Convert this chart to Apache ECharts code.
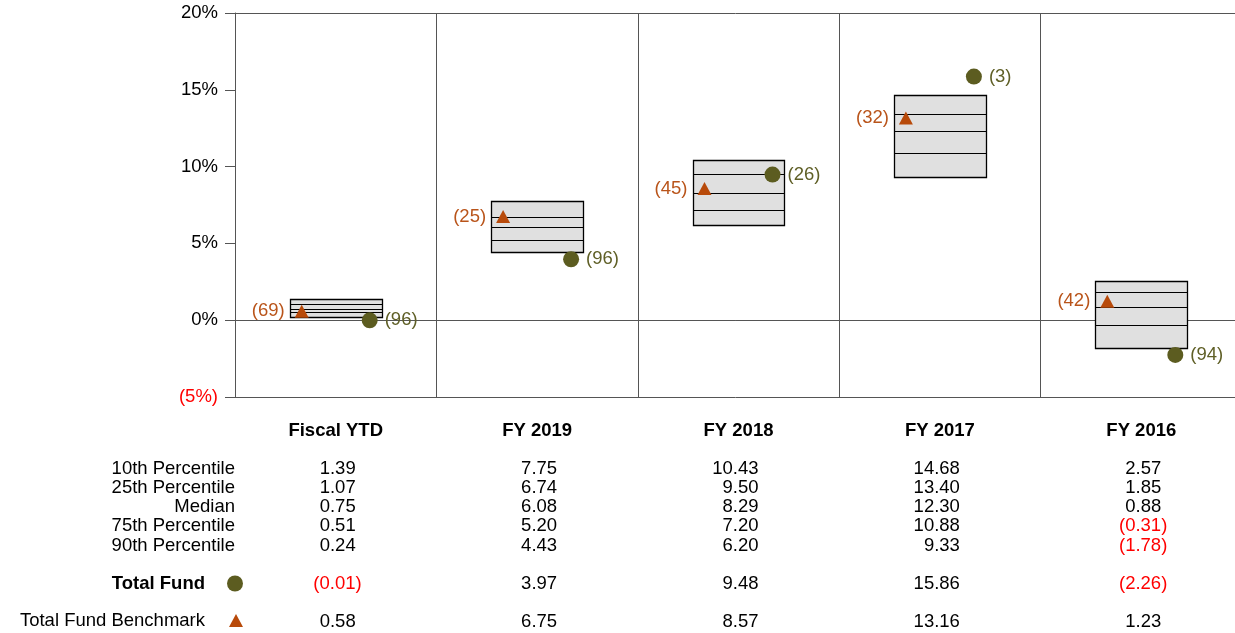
<!DOCTYPE html>
<html>
<head>
<meta charset="utf-8">
<script src="https://cdn.jsdelivr.net/npm/echarts@6/dist/echarts.min.js"></script>
<style>
  html, body { margin: 0; padding: 0; background: #fff; }
  #chart { width: 1235px; height: 633px; }
</style>
</head>
<body>
<div id="chart"></div>
<script>
// periods and percentile ranges (%)
var periods = ['Fiscal YTD', 'FY 2019', 'FY 2018', 'FY 2017', 'FY 2016'];
var p10 = [1.39, 7.75, 10.43, 14.68, 2.57];
var p25 = [1.07, 6.74, 9.50, 13.40, 1.85];
var median = [0.75, 6.08, 8.29, 12.30, 0.88];
var p75 = [0.51, 5.20, 7.20, 10.88, -0.31];
var p90 = [0.24, 4.43, 6.20, 9.33, -1.78];
var totalFund = [-0.01, 3.97, 9.48, 15.86, -2.26];
var totalFundRank = [96, 96, 26, 3, 94];
var benchmark = [0.58, 6.75, 8.57, 13.16, 1.23];
var benchmarkRank = [69, 25, 45, 32, 42];
var rowNames = ['10th Percentile', '25th Percentile', 'Median', '75th Percentile', '90th Percentile'];

var FONT = '"Liberation Sans", Arial, sans-serif';
var FS = 18.5;
var fundColor = '#5c5c20';
var benchColor = '#b84a0a';
var lineColor = '#555';

function fmt(v) {
  if (v < 0) return '{r|(' + Math.abs(v).toFixed(2) + ')}';
  return '{n|' + v.toFixed(2) + '}';
}

// one extra x axis per table row, aligned with the category columns
var tableRows = [p10, p25, median, p75, p90, totalFund, benchmark];
var rowOffsets = [62.5, 81.5, 100.5, 119.5, 139.5, 177, 215];

var xAxes = [{
  type: 'category',
  data: periods,
  position: 'bottom',
  axisLine: { show: true, lineStyle: { color: lineColor, width: 1 } },
  axisTick: { show: false },
  splitLine: { show: true, lineStyle: { color: lineColor, width: 1 } },
  axisLabel: {
    interval: 0, margin: 24.5, lineHeight: 19,
    fontFamily: FONT, fontSize: FS, fontWeight: 'bold', color: '#000'
  }
}];
tableRows.forEach(function (row, k) {
  xAxes.push({
    type: 'category',
    data: row.map(fmt),
    position: 'bottom',
    offset: rowOffsets[k],
    axisLine: { show: false },
    axisTick: { show: false },
    splitLine: { show: false },
    axisLabel: {
      interval: 0, margin: 0, width: 52, align: 'center',
      fontFamily: FONT, fontSize: FS, color: '#000', lineHeight: 19,
      rich: {
        n: { align: 'right', fontFamily: FONT, fontSize: FS, color: '#000', padding: [0, 6, 0, 0] },
        r: { align: 'right', fontFamily: FONT, fontSize: FS, color: '#ff0000' }
      }
    }
  });
});

var rowLabelTexts = rowNames.map(function (name, k) {
  return {
    type: 'text',
    right: 1235 - 235,
    top: 397 + rowOffsets[k],
    style: {
      text: name, font: FS + 'px ' + FONT, fill: '#000',
      textAlign: 'right', lineHeight: 19
    }
  };
});

var boxData = periods.map(function (p, i) {
  return [i, p10[i], p25[i], median[i], p75[i], p90[i]];
});

var dom = document.getElementById('chart');
var myChart = echarts.init(dom, null, { renderer: 'canvas' });

var option = {
  animation: false,
  backgroundColor: '#fff',
  grid: { left: 235, top: 13, width: 1007, height: 384, containLabel: false, outerBoundsMode: 'none' },
  legend: [
    {
      data: [{ name: 'Total Fund', icon: 'circle' }],
      right: 1235 - 248, top: 569, align: 'right', orient: 'vertical',
      selectedMode: false, itemWidth: 16, itemHeight: 16,
      textStyle: { fontFamily: FONT, fontSize: FS, fontWeight: 'bold', color: '#000', padding: [0, 17, 0, 0] }
    },
    {
      data: [{ name: 'Total Fund Benchmark', icon: 'triangle' }],
      right: 1235 - 248, top: 606, align: 'right', orient: 'vertical',
      selectedMode: false, itemWidth: 14, itemHeight: 13,
      textStyle: { fontFamily: FONT, fontSize: FS, color: '#000', padding: [0, 19, 0, 0] }
    }
  ],
  xAxis: xAxes,
  yAxis: {
    type: 'value',
    min: -5, max: 20, interval: 5,
    axisLine: { show: true, lineStyle: { color: lineColor, width: 1 } },
    axisTick: { show: true, inside: false, length: 10, lineStyle: { color: lineColor } },
    splitLine: {
      show: true,
      lineStyle: { color: [lineColor, lineColor, 'transparent', 'transparent', 'transparent', lineColor], width: 1 }
    },
    axisLabel: {
      margin: 17, fontFamily: FONT, fontSize: FS,
      formatter: function (v) { return v < 0 ? '{r|(' + Math.abs(v) + '%)}' : v + '%'; },
      color: '#000',
      rich: { r: { color: '#ff0000', fontFamily: FONT, fontSize: FS } }
    }
  },
  graphic: rowLabelTexts,
  series: [
    {
      name: 'Range',
      type: 'custom',
      data: boxData,
      encode: { x: 0, y: [1, 2, 3, 4, 5] },
      z: 2,
      renderItem: function (params, api) {
        var i = api.value(0);
        var w = api.size([1, 0])[0] * 0.456;
        var top = api.coord([i, api.value(1)]);
        var bot = api.coord([i, api.value(5)]);
        var x0 = Math.round(top[0] - w / 2) + 0.5;
        var x1 = Math.round(top[0] + w / 2) + 0.5;
        var children = [{
          type: 'rect',
          shape: { x: x0, y: Math.round(top[1]) + 0.5, width: x1 - x0, height: Math.round(bot[1]) - Math.round(top[1]) },
          style: { fill: '#e0e0e0', stroke: '#000', lineWidth: 1.3 }
        }];
        [2, 3, 4].forEach(function (d) {
          var y = Math.round(api.coord([i, api.value(d)])[1]) + 0.5;
          children.push({
            type: 'line',
            shape: { x1: x0, y1: y, x2: x1, y2: y },
            style: { stroke: '#000', lineWidth: 1 }
          });
        });
        return { type: 'group', children: children };
      }
    },
    {
      name: 'Total Fund Benchmark',
      type: 'scatter',
      z: 4,
      symbol: 'triangle',
      symbolSize: [14, 13],
      symbolOffset: [-34, 0],
      itemStyle: { color: benchColor, opacity: 1 },
      data: benchmark.map(function (v, i) { return { value: [i, v], rank: benchmarkRank[i] }; }),
      label: {
        show: true, position: 'left', distance: 10,
        fontFamily: FONT, fontSize: FS, color: '#b9541a', opacity: 1,
        formatter: function (p) { return '(' + p.data.rank + ')'; }
      }
    },
    {
      name: 'Total Fund',
      type: 'scatter',
      z: 5,
      symbol: 'circle',
      symbolSize: 16,
      symbolOffset: [34, 0],
      itemStyle: { color: fundColor, opacity: 1 },
      data: totalFund.map(function (v, i) { return { value: [i, v], rank: totalFundRank[i] }; }),
      label: {
        show: true, position: 'right', distance: 7,
        fontFamily: FONT, fontSize: FS, color: '#5f5f26', opacity: 1,
        formatter: function (p) { return '(' + p.data.rank + ')'; }
      }
    }
  ]
};

myChart.setOption(option);
window.addEventListener('resize', myChart.resize);
</script>
</body>
</html>
